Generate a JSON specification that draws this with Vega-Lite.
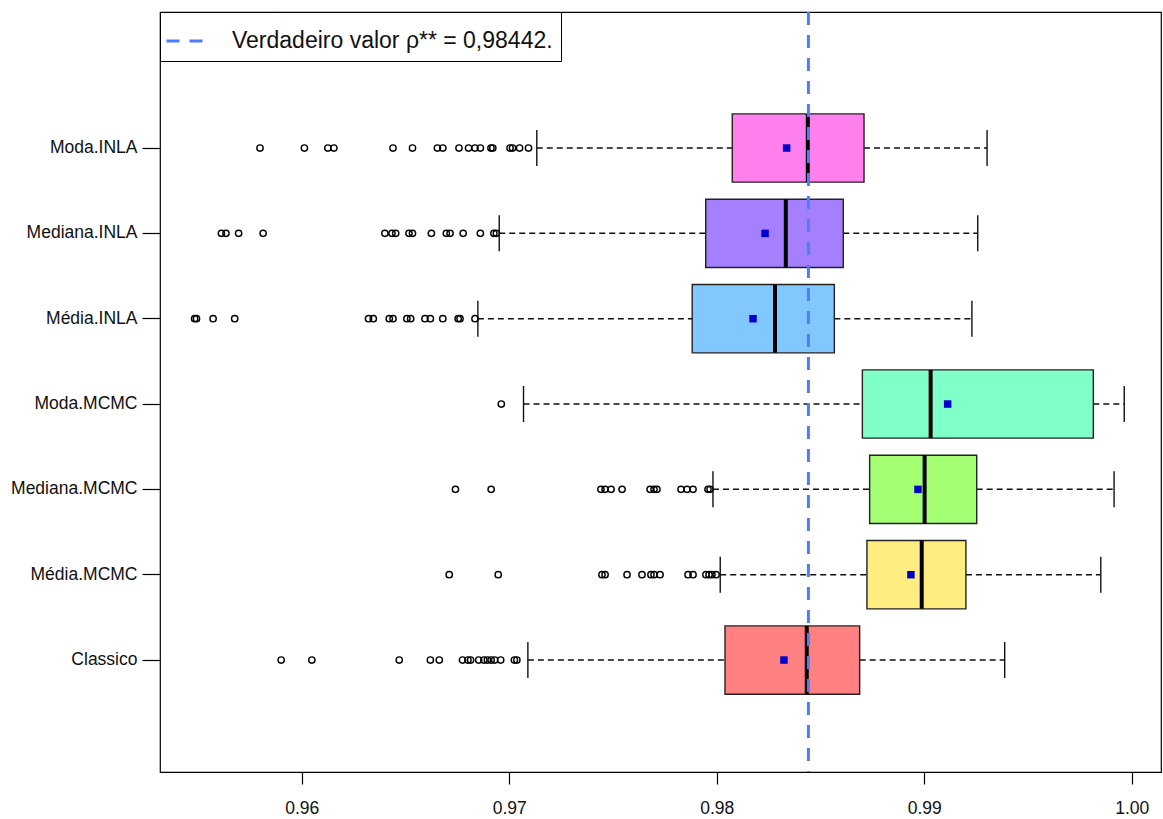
{
  "$schema": "https://vega.github.io/schema/vega-lite/v6.json",
  "width": 1001,
  "height": 760,
  "autosize": {"type": "none"},
  "padding": {"left": 160, "top": 12, "right": 2, "bottom": 47},
  "background": "white",
  "config": {
    "view": {"stroke": "black", "strokeWidth": 1.2},
    "font": "Liberation Sans",
    "axis": {
      "labelFont": "Liberation Sans",
      "labelFontSize": 17.5,
      "labelColor": "#111",
      "tickColor": "black",
      "tickWidth": 1.2,
      "domain": false,
      "grid": false,
      "title": null
    }
  },
  "datasets": {
    "resumo": [
      {"grupo": "Moda.INLA", "inferior": 0.97133, "q1": 0.98075, "mediana": 0.98439, "q3": 0.98710, "superior": 0.99303, "media": 0.98337},
      {"grupo": "Mediana.INLA", "inferior": 0.96952, "q1": 0.97947, "mediana": 0.98333, "q3": 0.98610, "superior": 0.99258, "media": 0.98233},
      {"grupo": "Média.INLA", "inferior": 0.96849, "q1": 0.97882, "mediana": 0.98281, "q3": 0.98567, "superior": 0.99230, "media": 0.98175},
      {"grupo": "Moda.MCMC", "inferior": 0.97069, "q1": 0.98702, "mediana": 0.99031, "q3": 0.99815, "superior": 0.99964, "media": 0.99113},
      {"grupo": "Mediana.MCMC", "inferior": 0.97982, "q1": 0.98737, "mediana": 0.99002, "q3": 0.99253, "superior": 0.99915, "media": 0.98970},
      {"grupo": "Média.MCMC", "inferior": 0.98017, "q1": 0.98724, "mediana": 0.98988, "q3": 0.99201, "superior": 0.99851, "media": 0.98936},
      {"grupo": "Classico", "inferior": 0.97090, "q1": 0.98040, "mediana": 0.98434, "q3": 0.98689, "superior": 0.99388, "media": 0.98324}
    ],
    "atipicos": [
      {"grupo": "Moda.INLA", "valor": 0.95799}, {"grupo": "Moda.INLA", "valor": 0.96013},
      {"grupo": "Moda.INLA", "valor": 0.96126}, {"grupo": "Moda.INLA", "valor": 0.96155},
      {"grupo": "Moda.INLA", "valor": 0.96440}, {"grupo": "Moda.INLA", "valor": 0.96534},
      {"grupo": "Moda.INLA", "valor": 0.96654}, {"grupo": "Moda.INLA", "valor": 0.96680},
      {"grupo": "Moda.INLA", "valor": 0.96758}, {"grupo": "Moda.INLA", "valor": 0.96804},
      {"grupo": "Moda.INLA", "valor": 0.96835}, {"grupo": "Moda.INLA", "valor": 0.96861},
      {"grupo": "Moda.INLA", "valor": 0.96912}, {"grupo": "Moda.INLA", "valor": 0.96921},
      {"grupo": "Moda.INLA", "valor": 0.97004}, {"grupo": "Moda.INLA", "valor": 0.97016},
      {"grupo": "Moda.INLA", "valor": 0.97050}, {"grupo": "Moda.INLA", "valor": 0.97093},

      {"grupo": "Mediana.INLA", "valor": 0.95613}, {"grupo": "Mediana.INLA", "valor": 0.95635},
      {"grupo": "Mediana.INLA", "valor": 0.95696}, {"grupo": "Mediana.INLA", "valor": 0.95814},
      {"grupo": "Mediana.INLA", "valor": 0.96401}, {"grupo": "Mediana.INLA", "valor": 0.96435},
      {"grupo": "Mediana.INLA", "valor": 0.96453}, {"grupo": "Mediana.INLA", "valor": 0.96517},
      {"grupo": "Mediana.INLA", "valor": 0.96534}, {"grupo": "Mediana.INLA", "valor": 0.96625},
      {"grupo": "Mediana.INLA", "valor": 0.96697}, {"grupo": "Mediana.INLA", "valor": 0.96715},
      {"grupo": "Mediana.INLA", "valor": 0.96778}, {"grupo": "Mediana.INLA", "valor": 0.96861},
      {"grupo": "Mediana.INLA", "valor": 0.96926}, {"grupo": "Mediana.INLA", "valor": 0.96938},

      {"grupo": "Média.INLA", "valor": 0.95484}, {"grupo": "Média.INLA", "valor": 0.95493},
      {"grupo": "Média.INLA", "valor": 0.95573}, {"grupo": "Média.INLA", "valor": 0.95677},
      {"grupo": "Média.INLA", "valor": 0.96322}, {"grupo": "Média.INLA", "valor": 0.96345},
      {"grupo": "Média.INLA", "valor": 0.96422}, {"grupo": "Média.INLA", "valor": 0.96440},
      {"grupo": "Média.INLA", "valor": 0.96507}, {"grupo": "Média.INLA", "valor": 0.96525},
      {"grupo": "Média.INLA", "valor": 0.96594}, {"grupo": "Média.INLA", "valor": 0.96620},
      {"grupo": "Média.INLA", "valor": 0.96680}, {"grupo": "Média.INLA", "valor": 0.96754},
      {"grupo": "Média.INLA", "valor": 0.96763}, {"grupo": "Média.INLA", "valor": 0.96835},

      {"grupo": "Moda.MCMC", "valor": 0.96962},

      {"grupo": "Mediana.MCMC", "valor": 0.96741}, {"grupo": "Mediana.MCMC", "valor": 0.96913},
      {"grupo": "Mediana.MCMC", "valor": 0.97442}, {"grupo": "Mediana.MCMC", "valor": 0.97462},
      {"grupo": "Mediana.MCMC", "valor": 0.97491}, {"grupo": "Mediana.MCMC", "valor": 0.97544},
      {"grupo": "Mediana.MCMC", "valor": 0.97679}, {"grupo": "Mediana.MCMC", "valor": 0.97698},
      {"grupo": "Mediana.MCMC", "valor": 0.97712}, {"grupo": "Mediana.MCMC", "valor": 0.97828},
      {"grupo": "Mediana.MCMC", "valor": 0.97857}, {"grupo": "Mediana.MCMC", "valor": 0.97886},
      {"grupo": "Mediana.MCMC", "valor": 0.97958}, {"grupo": "Mediana.MCMC", "valor": 0.97968},

      {"grupo": "Média.MCMC", "valor": 0.96711}, {"grupo": "Média.MCMC", "valor": 0.96947},
      {"grupo": "Média.MCMC", "valor": 0.97447}, {"grupo": "Média.MCMC", "valor": 0.97462},
      {"grupo": "Média.MCMC", "valor": 0.97568}, {"grupo": "Média.MCMC", "valor": 0.97640},
      {"grupo": "Média.MCMC", "valor": 0.97683}, {"grupo": "Média.MCMC", "valor": 0.97698},
      {"grupo": "Média.MCMC", "valor": 0.97727}, {"grupo": "Média.MCMC", "valor": 0.97862},
      {"grupo": "Média.MCMC", "valor": 0.97886}, {"grupo": "Média.MCMC", "valor": 0.97948},
      {"grupo": "Média.MCMC", "valor": 0.97963}, {"grupo": "Média.MCMC", "valor": 0.97977},
      {"grupo": "Média.MCMC", "valor": 0.97997},

      {"grupo": "Classico", "valor": 0.95901}, {"grupo": "Classico", "valor": 0.96049},
      {"grupo": "Classico", "valor": 0.96470}, {"grupo": "Classico", "valor": 0.96620},
      {"grupo": "Classico", "valor": 0.96663}, {"grupo": "Classico", "valor": 0.96775},
      {"grupo": "Classico", "valor": 0.96801}, {"grupo": "Classico", "valor": 0.96814},
      {"grupo": "Classico", "valor": 0.96853}, {"grupo": "Classico", "valor": 0.96878},
      {"grupo": "Classico", "valor": 0.96895}, {"grupo": "Classico", "valor": 0.96913},
      {"grupo": "Classico", "valor": 0.96930}, {"grupo": "Classico", "valor": 0.96959},
      {"grupo": "Classico", "valor": 0.97025}, {"grupo": "Classico", "valor": 0.97037}
    ],
    "referencia": [
      {"rotulo": "Verdadeiro valor ρ** = 0,98442.", "valor": 0.98442}
    ]
  },
  "encoding": {
    "y": {
      "field": "grupo",
      "type": "nominal",
      "scale": {
        "type": "band",
        "domain": ["Moda.INLA", "Mediana.INLA", "Média.INLA", "Moda.MCMC", "Mediana.MCMC", "Média.MCMC", "Classico"],
        "paddingInner": 0,
        "paddingOuter": 0.953,
        "align": 0.574,
        "round": false
      },
      "axis": {"tickSize": 18, "labelPadding": 5, "title": null}
    }
  },
  "layer": [
    {
      "data": {"name": "resumo"},
      "mark": {"type": "rule", "color": "#111", "strokeWidth": 1.5, "strokeDash": [6, 4]},
      "encoding": {
        "x": {
          "field": "inferior",
          "type": "quantitative",
          "scale": {"domain": [0.953171, 1.001412], "nice": false, "zero": false},
          "axis": {"values": [0.96, 0.97, 0.98, 0.99, 1.0], "format": ".2f", "tickSize": 12, "labelPadding": 15, "title": null}
        },
        "x2": {"field": "q1"}
      }
    },
    {
      "data": {"name": "resumo"},
      "mark": {"type": "rule", "color": "#111", "strokeWidth": 1.5, "strokeDash": [6, 4]},
      "encoding": {
        "x": {"field": "q3", "type": "quantitative"},
        "x2": {"field": "superior"}
      }
    },
    {
      "data": {"name": "resumo"},
      "mark": {"type": "tick", "color": "#111", "opacity": 1, "thickness": 1.4, "size": 36},
      "encoding": {"x": {"field": "inferior", "type": "quantitative"}}
    },
    {
      "data": {"name": "resumo"},
      "mark": {"type": "tick", "color": "#111", "opacity": 1, "thickness": 1.4, "size": 36},
      "encoding": {"x": {"field": "superior", "type": "quantitative"}}
    },
    {
      "data": {"name": "resumo"},
      "mark": {"type": "bar", "height": {"band": 0.8}, "stroke": "#222", "strokeWidth": 1.4, "fillOpacity": 1, "opacity": 1},
      "encoding": {
        "x": {"field": "q1", "type": "quantitative"},
        "x2": {"field": "q3"},
        "fill": {
          "field": "grupo",
          "type": "nominal",
          "scale": {
            "domain": ["Classico", "Média.MCMC", "Mediana.MCMC", "Moda.MCMC", "Média.INLA", "Mediana.INLA", "Moda.INLA"],
            "range": ["#FF8080", "#FFED80", "#A4FF73", "#80FFC8", "#80C8FF", "#A480FF", "#FF80ED"]
          },
          "legend": null
        }
      }
    },
    {
      "data": {"name": "resumo"},
      "mark": {"type": "tick", "color": "black", "opacity": 1, "thickness": 4, "size": 68},
      "encoding": {"x": {"field": "mediana", "type": "quantitative"}}
    },
    {
      "data": {"name": "atipicos"},
      "mark": {"type": "point", "shape": "circle", "filled": false, "stroke": "black", "strokeWidth": 1.4, "size": 40, "opacity": 1},
      "encoding": {"x": {"field": "valor", "type": "quantitative"}}
    },
    {
      "data": {"name": "resumo"},
      "mark": {"type": "square", "color": "#0000CD", "size": 56, "opacity": 1},
      "encoding": {"x": {"field": "media", "type": "quantitative"}}
    },
    {
      "data": {"name": "referencia"},
      "mark": {"type": "rule", "strokeWidth": 3, "strokeDash": [13, 10], "opacity": 1},
      "encoding": {
        "x": {"field": "valor", "type": "quantitative"},
        "y": null,
        "color": {
          "field": "rotulo",
          "type": "nominal",
          "scale": {"range": ["#4F7CFF"]},
          "legend": {
            "orient": "top-left",
            "offset": 0,
            "title": null,
            "padding": 8,
            "fillColor": "white",
            "strokeColor": "black",
            "cornerRadius": 0,
            "symbolType": "stroke",
            "symbolSize": 1521,
            "symbolStrokeWidth": 3,
            "symbolDash": [13, 10],
            "symbolOffset": -3,
            "labelOffset": 25,
            "labelFont": "Liberation Sans",
            "labelFontSize": 23,
            "labelColor": "#111",
            "labelLimit": 600
          }
        }
      }
    }
  ]
}
